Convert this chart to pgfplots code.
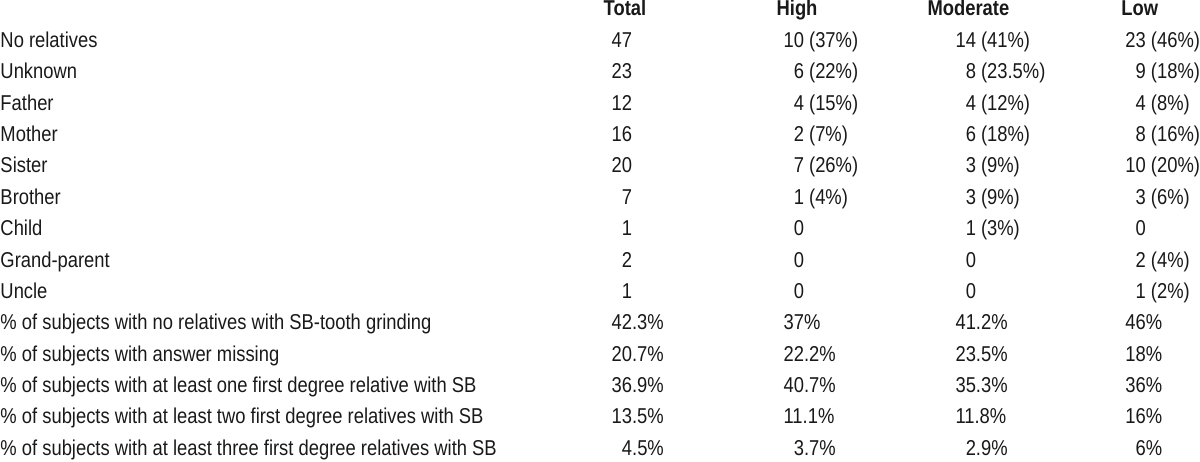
\documentclass[border=0pt]{standalone}
\usepackage{fontspec}
\setmainfont{Liberation Sans}[FakeStretch=0.855]
\usepackage{pgfplots}
\usepackage{pgfplotstable}
\pgfplotsset{compat=1.18}

\pgfplotstableread[col sep=comma]{
row,label,total,high,moderate,low
1,No relatives,47,10 (37\%),14 (41\%),23 (46\%)
2,Unknown,23,\phantom{0}6 (22\%),\phantom{0}8 (23.5\%),\phantom{0}9 (18\%)
3,Father,12,\phantom{0}4 (15\%),\phantom{0}4 (12\%),\phantom{0}4 (8\%)
4,Mother,16,\phantom{0}2 (7\%),\phantom{0}6 (18\%),\phantom{0}8 (16\%)
5,Sister,20,\phantom{0}7 (26\%),\phantom{0}3 (9\%),10 (20\%)
6,Brother,\phantom{0}7,\phantom{0}1 (4\%),\phantom{0}3 (9\%),\phantom{0}3 (6\%)
7,Child,\phantom{0}1,\phantom{0}0,\phantom{0}1 (3\%),\phantom{0}0
8,Grand-parent,\phantom{0}2,\phantom{0}0,\phantom{0}0,\phantom{0}2 (4\%)
9,Uncle,\phantom{0}1,\phantom{0}0,\phantom{0}0,\phantom{0}1 (2\%)
10,\% of subjects with no relatives with SB-tooth grinding,42.3\%,37\%,41.2\%,46\%
11,\% of subjects with answer missing,20.7\%,22.2\%,23.5\%,18\%
12,\% of subjects with at least one first degree relative with SB,36.9\%,40.7\%,35.3\%,36\%
13,\% of subjects with at least two first degree relatives with SB,13.5\%,11.1\%,11.8\%,16\%
14,\% of subjects with at least three first degree relatives with SB,\phantom{0}4.5\%,\phantom{0}3.7\%,\phantom{0}2.9\%,\phantom{0}6\%
}\datatbl

\pgfplotstableread[col sep=comma]{
x,label
604,Total
777,High
928,Moderate
1122,Low
}\headtbl

\begin{document}
\begin{tikzpicture}
\begin{axis}[
  scale only axis,
  width=1200pt, height=462pt,
  xmin=0, xmax=1200,
  ymin=-0.5096, ymax=14.204,
  y dir=reverse,
  hide axis,
  clip=false,
  every node near coord/.append style={anchor=base west, inner sep=0pt, outer sep=0pt, text=black!90, font=\fontsize{21.5}{25}\selectfont},
]
\path (rel axis cs:0,0) rectangle (rel axis cs:1,1);
\addplot[draw=none, mark=none, nodes near coords, point meta=explicit symbolic,
  every node near coord/.append style={font=\fontsize{21.5}{25}\selectfont\bfseries}]
  table[x=x, y expr=0, meta=label] {\headtbl};
\addplot[draw=none, mark=none, nodes near coords, point meta=explicit symbolic]
  table[x expr=0.5, y=row, meta=label] {\datatbl};
\addplot[draw=none, mark=none, nodes near coords, point meta=explicit symbolic]
  table[x expr=612, y=row, meta=total] {\datatbl};
\addplot[draw=none, mark=none, nodes near coords, point meta=explicit symbolic]
  table[x expr=784, y=row, meta=high] {\datatbl};
\addplot[draw=none, mark=none, nodes near coords, point meta=explicit symbolic]
  table[x expr=956, y=row, meta=moderate] {\datatbl};
\addplot[draw=none, mark=none, nodes near coords, point meta=explicit symbolic]
  table[x expr=1126, y=row, meta=low] {\datatbl};
\end{axis}
\end{tikzpicture}
\end{document}
